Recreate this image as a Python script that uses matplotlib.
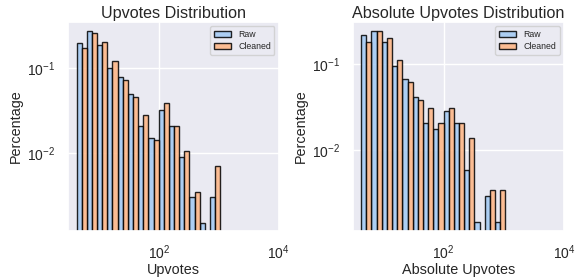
import numpy as np
import matplotlib
matplotlib.use('Agg')
import matplotlib.pyplot as plt
import seaborn as sns

#### data ####
# log10 bin edges shared by both histograms (14 bins)
bin_edges_log = np.linspace(0.629, 3.025, 15)

upvotes_raw = [0.198, 0.274, 0.185, 0.0995, 0.078, 0.050, 0.0209, 0.0150,
               0.0324, 0.0208, 0.0090, 0.0030, 0.00151, 0.0030]
upvotes_clean = [0.173, 0.255, 0.203, 0.121, 0.0726, 0.0453, 0.0279, 0.0140,
                 0.0385, 0.0209, 0.0104, 0.0035, 0.0, 0.0070]

abs_raw = [0.219, 0.238, 0.177, 0.0955, 0.0663, 0.0417, 0.0206, 0.0177,
           0.0282, 0.0206, 0.00585, 0.00147, 0.00294, 0.00147]
abs_clean = [0.179, 0.238, 0.197, 0.111, 0.0622, 0.0378, 0.0310, 0.0206,
             0.0310, 0.0206, 0.0138, 0.0, 0.00343, 0.00343]

labels = ['Raw', 'Cleaned']
titles = ['Upvotes Distribution', 'Absolute Upvotes Distribution']
xlabels = ['Upvotes', 'Absolute Upvotes']

#### style ####
sns.set_theme(style='darkgrid')
plt.rcParams['font.family'] = ['Liberation Sans', 'DejaVu Sans']
blue = '#a1c9f4'
orange = '#ffb482'

fig = plt.figure(figsize=(5.82, 2.8), dpi=100)
ax1 = fig.add_axes([0.117, 0.175, 0.362, 0.746])
ax2 = fig.add_axes([0.606, 0.175, 0.363, 0.746])

edges = 10 ** bin_edges_log
mids = np.sqrt(edges[:-1] * edges[1:])

def draw(ax, raw, clean, title, xlabel, ylim):
    ax.bar(edges[:-1], raw, width=mids - edges[:-1], align='edge',
           color=blue, edgecolor='black', linewidth=1, alpha=0.85, label=labels[0])
    ax.bar(mids, clean, width=edges[1:] - mids, align='edge',
           color=orange, edgecolor='black', linewidth=1, alpha=0.85, label=labels[1])
    ax.set_xscale('log')
    ax.set_yscale('log')
    ax.set_xlim(10 ** 0.488, 1e4)
    ax.set_ylim(*ylim)
    ax.set_xticks([1e2, 1e4])
    ax.set_yticks([1e-2, 1e-1])
    ax.minorticks_off()
    ax.tick_params(labelsize=10, pad=3)
    ax.set_title(title, fontsize=11.6, pad=3)
    ax.set_xlabel(xlabel, fontsize=10.4, labelpad=1)
    ax.set_ylabel('Percentage', fontsize=10.4, labelpad=3)
    ax.legend(loc='upper right', fontsize=6.3, handlelength=2.0,
              borderpad=0.4, labelspacing=0.4)

draw(ax1, upvotes_raw, upvotes_clean, titles[0], xlabels[0], (0.0012, 0.347))
draw(ax2, abs_raw, abs_clean, titles[1], xlabels[1], (0.00115, 0.305))

fig.savefig('out.png', dpi=100)
